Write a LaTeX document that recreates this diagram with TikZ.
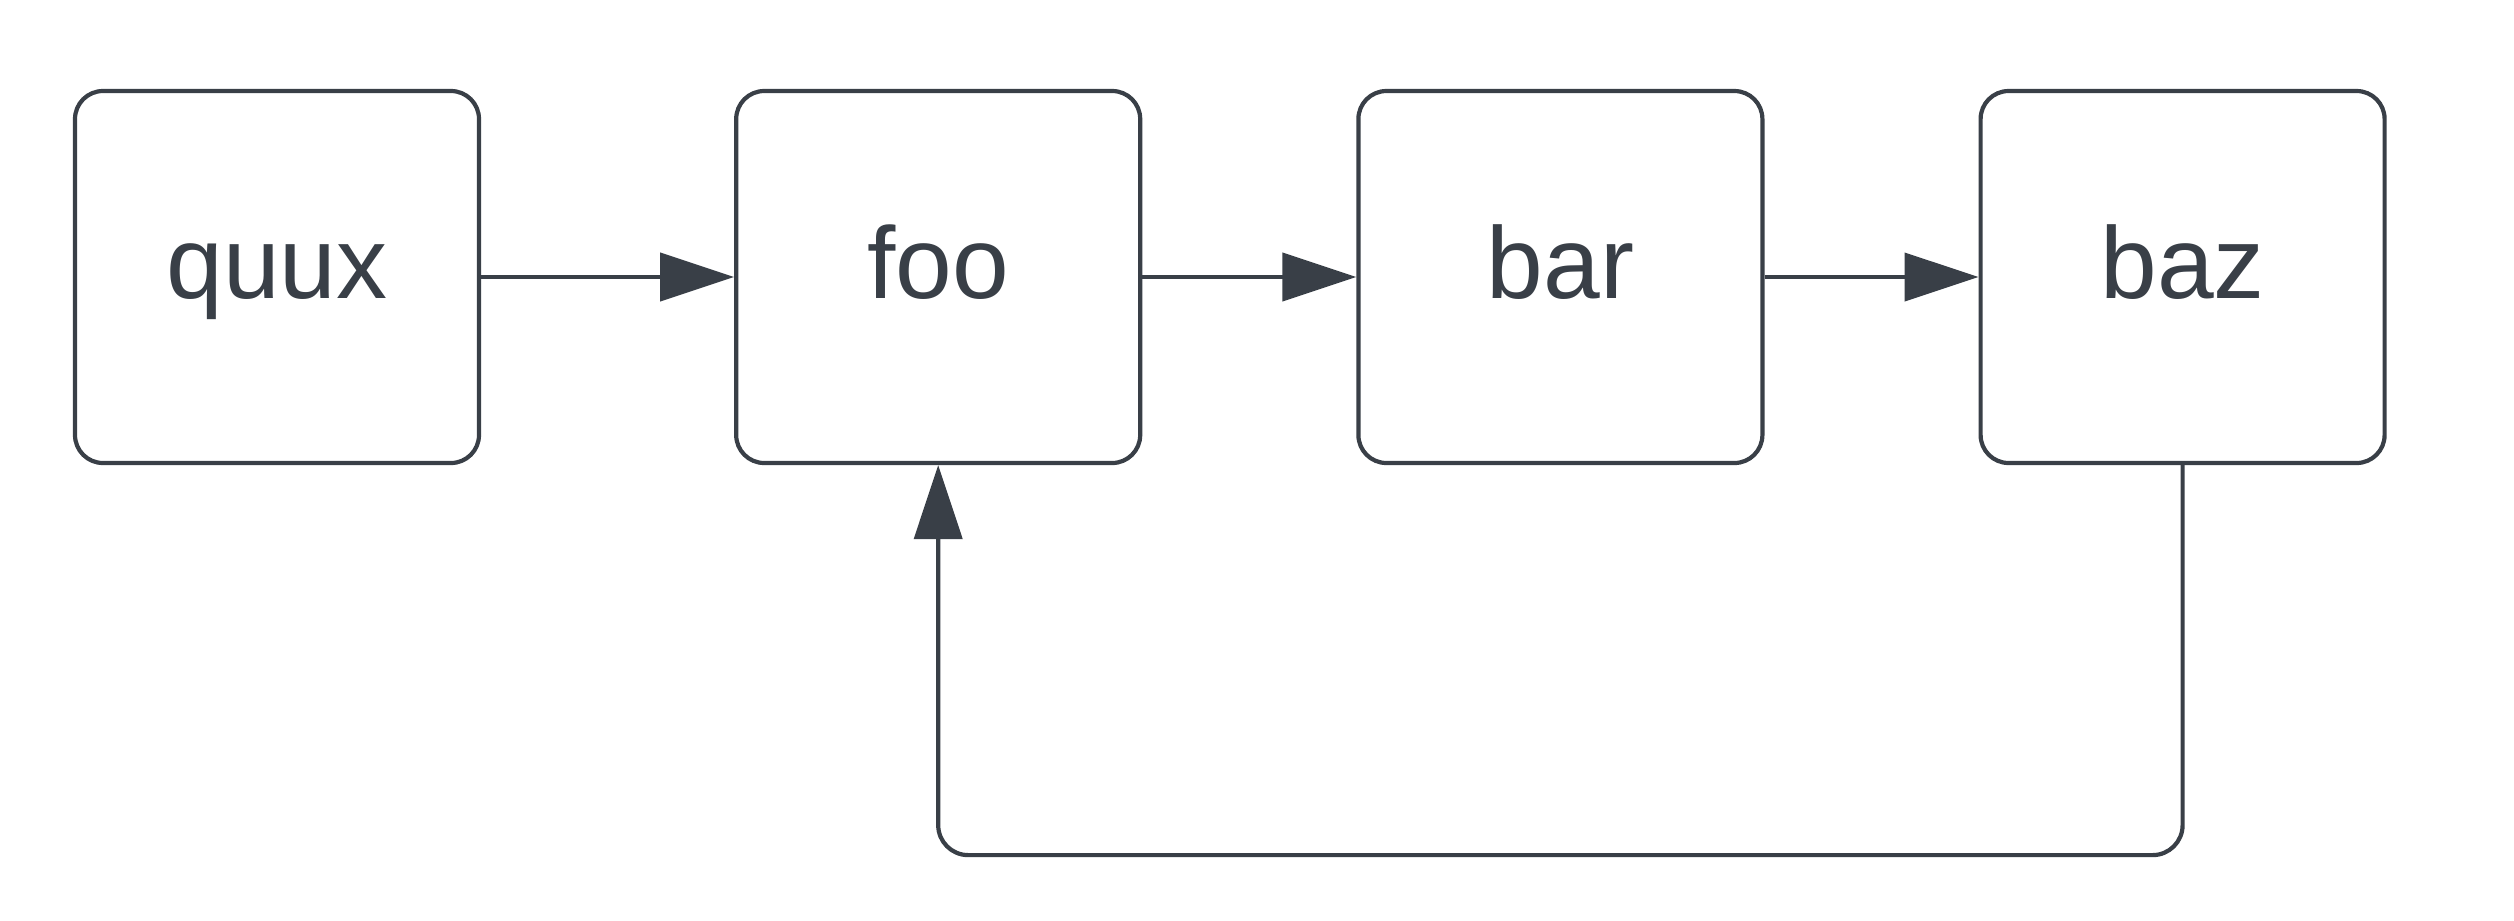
\documentclass[tikz,border=0pt]{standalone}
\usepackage{fontspec}
\setmainfont{Liberation Sans}
\usetikzlibrary{positioning,arrows.meta}
\definecolor{traitgris}{RGB}{57,63,71}
\tikzset{
    boite/.style={draw=traitgris, line width=0.042cm, rounded corners=0.28cm,
      minimum width=4.04cm, minimum height=3.72cm, text=traitgris,
      text height=0.62cm, text depth=0.2cm,
      font=\fontsize{29}{35}\selectfont},
    fleche/.style={draw=traitgris, line width=0.042cm,
      -{Triangle[length=0.74cm, width=0.48cm]}},
  }
\begin{document}
\begin{tikzpicture}
				  \useasboundingbox (0,0) rectangle (25.14,-9.20);
				  %boites
				  \node[boite] (quux) at (2.77,-2.77) {quux};
				  \node[boite, right=2.53cm of quux] (foo) {foo};
				  \node[boite, right=2.14cm of foo] (bar) {bar};
				  \node[boite, right=2.14cm of bar] (baz) {baz};
				  %fleches
				  \draw[fleche] (quux) -- (foo);
				  \draw[fleche] (foo) -- (bar);
				  \draw[fleche] (bar) -- (baz);
				  %retour
				  \draw[fleche, rounded corners=0.3cm] (baz.south) -- ++(0,-3.90) -| (foo.south);
				  \end{tikzpicture}
\end{document}
